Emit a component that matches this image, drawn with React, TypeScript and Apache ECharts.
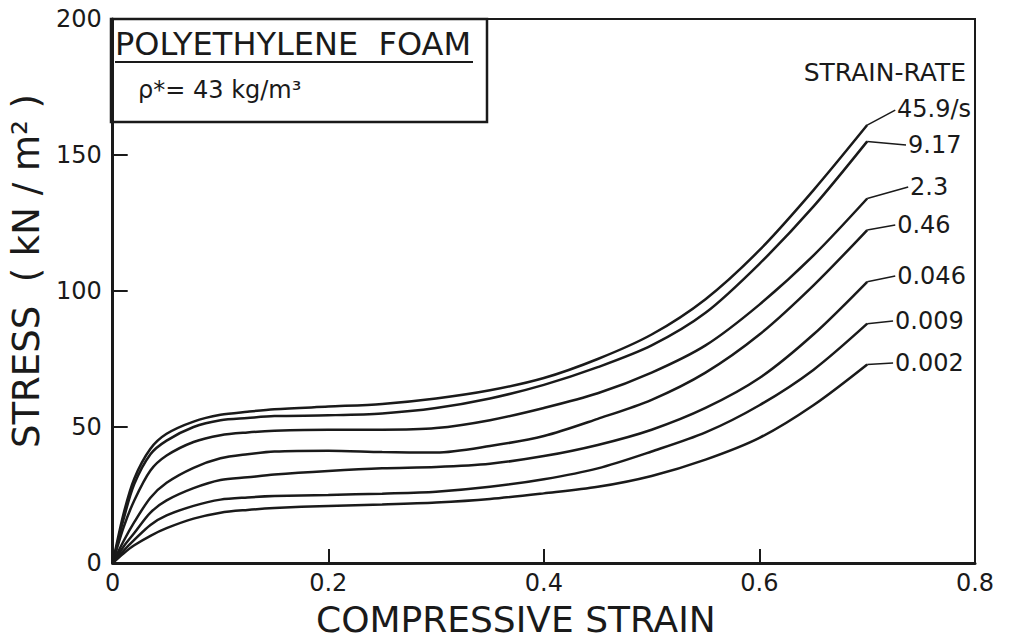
import React, { useEffect, useRef } from 'react';
import * as echarts from 'echarts';

// Compressive strain sample points (shared by all curves)
const strain = [0, 0.01, 0.02, 0.035, 0.05, 0.075, 0.1, 0.125, 0.15, 0.2, 0.25, 0.3, 0.35, 0.4, 0.45, 0.5, 0.55, 0.6, 0.65, 0.7];

// Stress (kN/m^2) for each strain rate
const rate45_9 = [0, 18, 31, 42, 47.5, 52, 54.5, 55.6, 56.5, 57.5, 58.5, 60.5, 63.5, 68, 75, 84, 97, 115, 137, 161];
const rate9_17 = [0, 16, 29, 40, 45, 50, 52.5, 53.3, 54, 54.3, 55, 57, 60.5, 65.5, 72, 80, 92, 110, 131, 155];
const rate2_3 = [0, 13, 23, 34, 39.5, 44.5, 47, 48, 48.6, 49, 49, 49.6, 52.5, 57, 62.4, 70, 80, 95, 113, 134];
const rate0_46 = [0, 8, 15, 24, 29.5, 35, 38.5, 40, 41, 41.3, 40.8, 40.6, 43, 46.7, 53, 60, 70, 84, 102, 122.4];
const rate0_046 = [0, 6, 11, 18.5, 23, 27.5, 30.5, 31.5, 32.5, 33.8, 34.8, 35.3, 36.5, 39.3, 43.4, 49, 57, 68, 84, 103.4];
const rate0_009 = [0, 4.5, 8.5, 14, 17.5, 21, 23.3, 24.1, 24.6, 25, 25.5, 26.2, 28, 30.8, 34.8, 41, 48, 58, 71, 88];
const rate0_002 = [0, 3.5, 6.5, 10, 12.8, 16.3, 18.5, 19.5, 20.2, 21, 21.5, 22.2, 23.5, 25.6, 28, 32, 38, 46, 58, 73];

const rateLabels = ['45.9/s', '9.17', '2.3', '0.46', '0.046', '0.009', '0.002'];

// Axis ticks
const xTicks = [0, 0.2, 0.4, 0.6, 0.8];
const yTicks = [0, 50, 100, 150, 200];

// Where each leader line ends (strain, stress) — annotation layout
const leaderEnds = [
  [0.726, 166.5],
  [0.736, 153.7],
  [0.738, 138.2],
  [0.726, 124.3],
  [0.726, 105.5],
  [0.724, 89.0],
  [0.724, 73.5],
];

export default function App() {
  const ref = useRef<HTMLDivElement>(null);
  useEffect(() => {
    const chart = echarts.init(ref.current!, null, { renderer: 'svg' });
    const font = 'DejaVu Sans';
    const ink = '#1a1a1a';
    const curves = [rate45_9, rate9_17, rate2_3, rate0_46, rate0_046, rate0_009, rate0_002];

    chart.setOption({
      animation: false,
      backgroundColor: '#ffffff',
      grid: { left: 111, right: 40, top: 19, bottom: 81, show: true, borderColor: ink, borderWidth: 2, backgroundColor: 'transparent' },
      xAxis: {
        type: 'value',
        min: xTicks[0],
        max: xTicks[xTicks.length - 1],
        interval: xTicks[1] - xTicks[0],
        axisLine: { show: true, lineStyle: { color: ink, width: 3 } },
        axisTick: { show: true, inside: true, length: 14, lineStyle: { color: ink, width: 2 } },
        axisLabel: { color: ink, fontFamily: font, fontSize: 24, margin: 8 },
        splitLine: { show: false },
        name: 'COMPRESSIVE STRAIN',
        nameLocation: 'middle',
        nameGap: 38,
        nameTextStyle: { color: ink, fontFamily: font, fontSize: 36, padding: [0, 56, 0, 0] },
      },
      yAxis: {
        type: 'value',
        min: yTicks[0],
        max: yTicks[yTicks.length - 1],
        interval: yTicks[1] - yTicks[0],
        axisLine: { show: true, lineStyle: { color: ink, width: 3 } },
        axisTick: { show: true, inside: true, length: 15, lineStyle: { color: ink, width: 2 } },
        axisLabel: { color: ink, fontFamily: font, fontSize: 24, margin: 11 },
        splitLine: { show: false },
        name: 'STRESS  ( kN / m² )',
        nameLocation: 'middle',
        nameGap: 60,
        nameTextStyle: { color: ink, fontFamily: font, fontSize: 37, padding: [0, 0, 0, 40] },
      },
      series: curves.map((d, i) => ({
        name: rateLabels[i],
        type: 'line',
        data: strain.map((x, j) => [x, d[j]]),
        smooth: 0.3,
        showSymbol: false,
        symbol: 'none',
        lineStyle: { color: ink, width: 2.5 },
        emphasis: { disabled: true },
        markLine: {
          silent: true,
          symbol: ['none', 'none'],
          lineStyle: { color: ink, width: 1.5, type: 'solid' },
          label: {
            show: true,
            position: 'end',
            distance: 2,
            formatter: rateLabels[i],
            color: ink,
            fontFamily: font,
            fontSize: 24,
          },
          emphasis: { disabled: true },
          data: [[
            { coord: [strain[strain.length - 1], d[d.length - 1]] },
            { coord: leaderEnds[i] },
          ]],
        },
      })),
      graphic: [
        {
          type: 'rect',
          shape: { x: 111, y: 19, width: 376, height: 103 },
          style: { fill: 'transparent', stroke: ink, lineWidth: 2.5 },
          z: 10,
        },
        {
          type: 'text',
          x: 115,
          y: 44,
          style: { text: 'POLYETHYLENE  FOAM', fontFamily: font, fontSize: 32, fill: ink, textVerticalAlign: 'middle' },
          z: 11,
        },
        {
          type: 'line',
          shape: { x1: 115, y1: 62, x2: 473, y2: 62 },
          style: { stroke: ink, lineWidth: 2 },
          z: 11,
        },
        {
          type: 'text',
          x: 138,
          y: 90,
          style: { text: 'ρ*= 43 kg/m³', fontFamily: font, fontSize: 24, fill: ink, textVerticalAlign: 'middle' },
          z: 11,
        },
        {
          type: 'text',
          x: 966,
          y: 72,
          style: { text: 'STRAIN-RATE', fontFamily: font, fontSize: 25, fill: ink, textAlign: 'right', textVerticalAlign: 'middle' },
          z: 11,
        },
      ],
    });
    return () => chart.dispose();
  }, []);
  return <div ref={ref} style={{ position: 'fixed', left: 0, top: 0, width: 1015, height: 644 }} />;
}
